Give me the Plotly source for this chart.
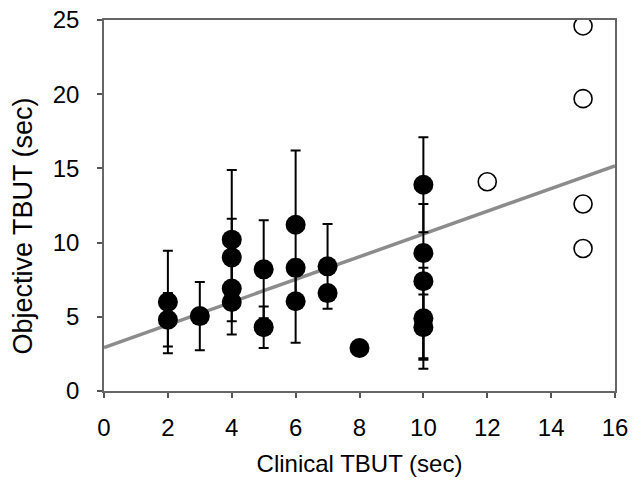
import plotly.graph_objects as go

# Filled points (with SD error bars)
x_filled = [2, 2, 3, 4, 4, 4, 4, 5, 5, 6, 6, 6, 7, 7, 8, 10, 10, 10, 10, 10]
y_filled = [6.0, 4.8, 5.05, 10.2, 9.0, 6.9, 6.0, 8.2, 4.3, 11.2, 8.3, 6.05, 8.4, 6.6, 2.9, 13.9, 9.3, 7.4, 4.9, 4.3]
err_filled = [3.45, 1.8, 2.3, 4.7, 2.6, 3.1, 1.3, 3.3, 1.4, 5.0, 0.5, 2.8, 2.85, 0.5, 0.0, 3.2, 0.5, 5.2, 3.4, 2.2]

# Open points
x_open = [12, 15, 15, 15, 15]
y_open = [14.1, 24.6, 19.7, 12.6, 9.6]

# Regression line endpoints
fit_x = [0, 16]
fit_y = [2.93, 15.17]

x_title = "Clinical TBUT (sec)"
y_title = "Objective TBUT (sec)"

FONT = "Liberation Sans, Arial, sans-serif"

fig = go.Figure()
fig.add_trace(go.Scatter(x=fit_x, y=fit_y, mode="lines",
                         line=dict(color="#8c8c8c", width=3.5), showlegend=False,
                         hoverinfo="skip"))
fig.add_trace(go.Scatter(x=x_filled, y=y_filled, mode="markers",
                         marker=dict(size=20, color="black", line=dict(width=0)),
                         error_y=dict(type="data", array=err_filled, visible=True,
                                      color="black", thickness=2, width=5),
                         showlegend=False))
fig.add_trace(go.Scatter(x=x_open, y=y_open, mode="markers",
                         marker=dict(size=18, color="white", line=dict(color="black", width=1.6)),
                         showlegend=False))

axis_common = dict(showgrid=False, zeroline=False, showline=True, linecolor="#666",
                   linewidth=1.5, mirror=True, ticks="outside", ticklen=5,
                   tickcolor="#555", tickwidth=1.5, automargin=False,
                   tickfont=dict(family=FONT, size=24, color="black"))

fig.update_xaxes(range=[0, 16], dtick=2, tick0=0, ticklabelstandoff=9,
                 title=dict(text=x_title, font=dict(family=FONT, size=24, color="black"),
                            standoff=16),
                 **axis_common)
fig.update_yaxes(range=[0, 25], dtick=5, tick0=0, ticklabelstandoff=13,
                 **axis_common)

fig.add_annotation(text=y_title, textangle=-90, xref="paper", yref="paper",
                   x=(22.5 - 104) / 511, y=(391 - 226) / 371, xanchor="center", yanchor="middle",
                   showarrow=False, font=dict(family=FONT, size=27, color="black"))

fig.update_layout(width=632, height=486, margin=dict(l=104, r=17, t=20, b=95),
                  plot_bgcolor="white", paper_bgcolor="white",
                  font=dict(family=FONT, color="black"))

fig.write_html("out.html")
